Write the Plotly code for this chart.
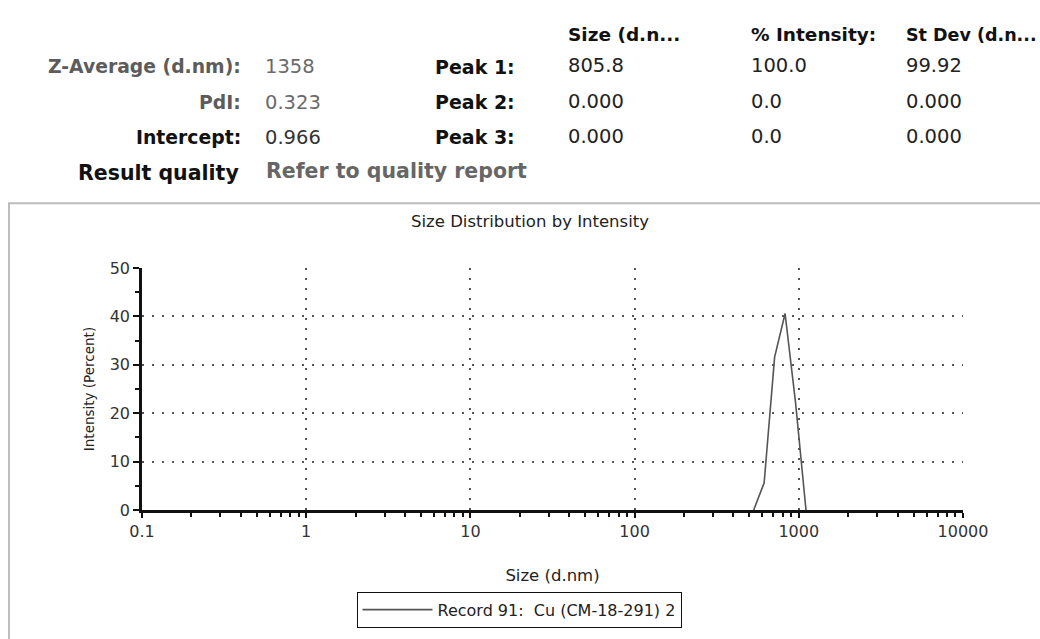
import plotly.graph_objects as go

# ---------------- data ----------------
sizes_nm = [531.2, 615.1, 712.4, 825.0, 955.4, 1106.0]
intensity_pct = [0.0, 5.6, 31.6, 40.6, 22.2, 0.0]
series_name = "Record 91:\u00a0 Cu (CM-18-291) 2"

x_tick_vals = [0.1, 1, 10, 100, 1000, 10000]
x_tick_text = ["0.1", "1", "10", "100", "1000", "10000"]
y_tick_vals = [0, 10, 20, 30, 40, 50]

col_headers = ["Size (d.n...", "% Intensity:", "St Dev (d.n..."]
stat_labels = ["Z-Average (d.nm):", "PdI:", "Intercept:"]
stat_values = ["1358", "0.323", "0.966"]
peak_labels = ["Peak 1:", "Peak 2:", "Peak 3:"]
peak_size = ["805.8", "0.000", "0.000"]
peak_intensity = ["100.0", "0.0", "0.0"]
peak_stdev = ["99.92", "0.000", "0.000"]
quality_label = "Result quality"
quality_value = "Refer to quality report"

# ---------------- layout geometry (pixels) ----------------
W, H = 1040, 639
L, R, T, B = 142, 963, 268, 518  # plot area


def px(x):
    return (x - L) / (R - L)


def py(y):
    return (B - y) / (B - T)


FONT = "DejaVu Sans"
fig = go.Figure()
fig.add_trace(go.Scatter(
    x=sizes_nm, y=intensity_pct, mode="lines", name=series_name,
    line=dict(color="#555555", width=1.6), showlegend=True,
))

ann = []
# column headers
col_x = [566, 749, 904]
col_size = [18.5, 18.5, 17.5]
for cx, fs, txt in zip(col_x, col_size, col_headers):
    ann.append(dict(x=px(cx), y=py(27), text="<b>%s</b>" % txt, xanchor="left", yanchor="middle",
                    font=dict(family=FONT, size=fs, color="#111111")))
row_y = [60, 97, 133]
stat_colors = ["#5c5c5c", "#5c5c5c", "#111111"]
stat_val_colors = ["#6a6a6a", "#6a6a6a", "#333333"]
for i, yy in enumerate(row_y):
    ann.append(dict(x=px(243), y=py(yy), text="<b>%s</b>" % stat_labels[i], xanchor="right",
                    yanchor="middle", font=dict(family=FONT, size=18.8, color=stat_colors[i])))
    ann.append(dict(x=px(263), y=py(yy), text=stat_values[i], xanchor="left",
                    yanchor="middle", font=dict(family=FONT, size=19.5, color=stat_val_colors[i])))
    ann.append(dict(x=px(517), y=py(yy), text="<b>%s</b>" % peak_labels[i], xanchor="right",
                    yanchor="middle", font=dict(family=FONT, size=19, color="#111111")))
    for cx, vals in zip(col_x, [peak_size, peak_intensity, peak_stdev]):
        ann.append(dict(x=px(cx), y=py(yy - 1), text=vals[i], xanchor="left", yanchor="middle",
                        font=dict(family=FONT, size=19.5, color="#222222")))
ann.append(dict(x=px(241), y=py(170), text="<b>%s</b>" % quality_label, xanchor="right",
                yanchor="middle", font=dict(family=FONT, size=20.5, color="#111111")))
ann.append(dict(x=px(264), y=py(168), text="<b>%s</b>" % quality_value, xanchor="left",
                yanchor="middle", font=dict(family=FONT, size=20.5, color="#666666")))

for a in ann:
    a.update(xref="paper", yref="paper", showarrow=False)

fig.update_layout(
    width=W, height=H,
    margin=dict(l=L, r=W - R, t=T, b=H - B, pad=0),
    paper_bgcolor="white", plot_bgcolor="white",
    font=dict(family=FONT, size=16, color="#333333"),
    title=dict(text="Size Distribution by Intensity", x=530 / W, xref="container", xanchor="center",
               y=1 - 221 / H, yref="container", yanchor="middle",
               font=dict(family=FONT, size=16.5, color="#222222")),
    annotations=ann,
    shapes=[dict(type="rect", xref="paper", yref="paper", x0=px(9), x1=px(1060), y0=py(201), y1=py(660),
                 line=dict(color="#bdbdbd", width=2), fillcolor="rgba(0,0,0,0)", layer="below")],
    legend=dict(x=px(519), y=py(621), xanchor="center", yanchor="middle", orientation="h",
                bgcolor="white", bordercolor="#111111", borderwidth=1,
                font=dict(family=FONT, size=16, color="#222222"), itemwidth=70,
                tracegroupgap=0),
    showlegend=True,
)

grid_dash = "2px,8px"
fig.update_xaxes(
    type="log", range=[-1, 4], tickvals=x_tick_vals, ticktext=x_tick_text,
    showline=True, linecolor="#111111", linewidth=2.5,
    ticks="outside", ticklen=5, tickcolor="#111111", tickwidth=1.5,
    showgrid=True, gridcolor="#555555", griddash=grid_dash, gridwidth=1.5,
    zeroline=False, tickfont=dict(family=FONT, size=16, color="#333333"),
    minor=dict(dtick="D1", ticks="outside", ticklen=4, tickcolor="#111111", tickwidth=1.5, showgrid=False),
    title=dict(text="Size (d.nm)", font=dict(family=FONT, size=16.5, color="#222222"), standoff=30),
    automargin=False,
)
fig.update_yaxes(
    range=[0, 50], tickvals=y_tick_vals,
    showline=True, linecolor="#111111", linewidth=2.5,
    ticks="outside", ticklen=6, tickcolor="#111111", tickwidth=1.5,
    showgrid=True, gridcolor="#555555", griddash=grid_dash, gridwidth=1.5,
    zeroline=False, tickfont=dict(family=FONT, size=16, color="#333333"),
    minor=dict(dtick=5, ticks="outside", ticklen=4, tickcolor="#111111", tickwidth=1.5, showgrid=False),
    title=dict(text="Intensity (Percent)", font=dict(family=FONT, size=13.5, color="#222222"), standoff=12),
    automargin=False,
)

fig.write_html(
    "out.html",
    config={"displayModeBar": False},
    post_script="document.body.style.margin='0';document.body.style.padding='0';"
                "document.body.style.overflow='hidden';",
)
